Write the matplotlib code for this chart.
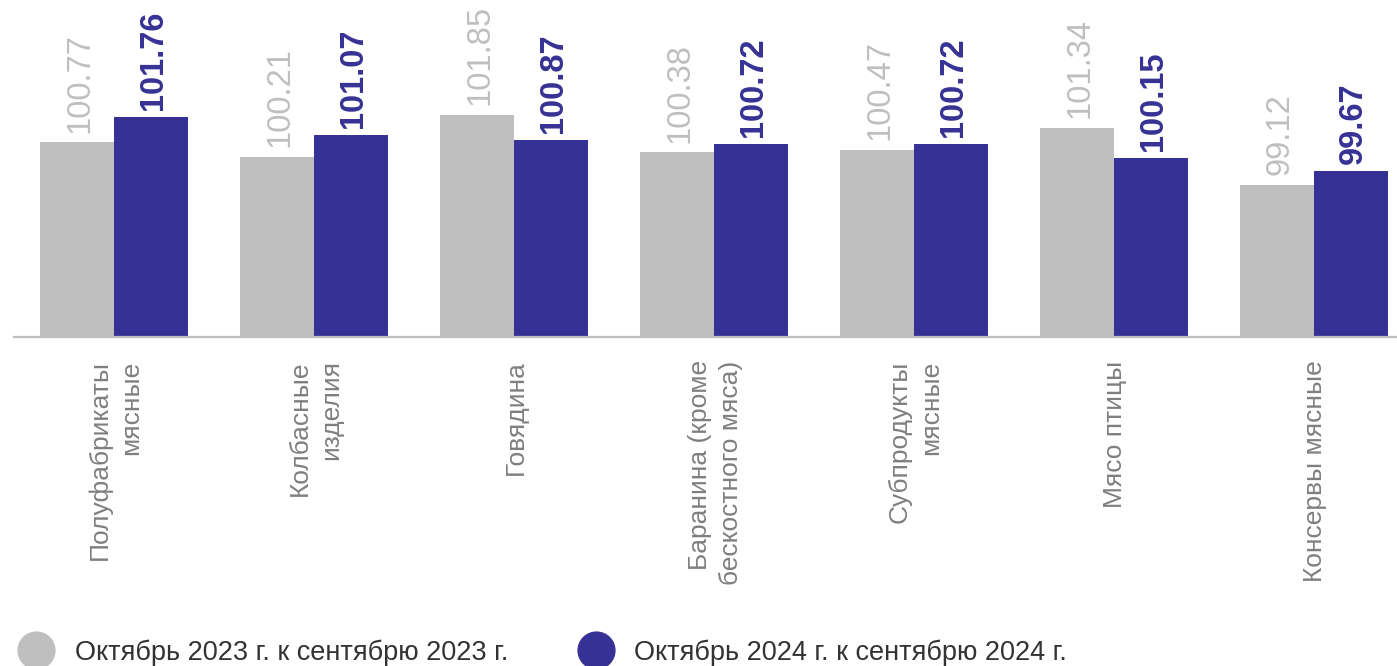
import matplotlib
matplotlib.use("Agg")
import matplotlib.pyplot as plt
from matplotlib.lines import Line2D
import numpy as np

plt.rcParams['font.family'] = ['Liberation Sans', 'DejaVu Sans']

categories = ["Полуфабрикаты\nмясные", "Колбасные\nизделия", "Говядина",
              "Баранина (кроме\nбескостного мяса)", "Субпродукты\nмясные",
              "Мясо птицы", "Консервы мясные"]
values_2023 = [100.77, 100.21, 101.85, 100.38, 100.47, 101.34, 99.12]
values_2024 = [101.76, 101.07, 100.87, 100.72, 100.72, 100.15, 99.67]
series_names = ["Октябрь 2023 г. к сентябрю 2023 г.", "Октябрь 2024 г. к сентябрю 2024 г."]

c_gray = "#BFBFBF"
c_blue = "#363194"

W, H = 1397, 666
fig = plt.figure(figsize=(W / 100, H / 100), dpi=100)
ax_bottom = (H - 336.7) / H
ax = fig.add_axes([14 / W, ax_bottom, 1 - 14 / W, 1 - ax_bottom])

x = np.arange(len(categories))
bw = 0.37
ax.bar(x - bw / 2, values_2023, bw, color=c_gray)
ax.bar(x + bw / 2, values_2024, bw, color=c_blue)

ax.set_xlim(-0.5, 6.415)
ax.set_ylim(93.18, 93.18 + 336.7 / 25.6)

for s in ['top', 'right', 'left']:
    ax.spines[s].set_visible(False)
ax.spines['bottom'].set_color(c_gray)
ax.spines['bottom'].set_linewidth(1.6)
ax.set_yticks([])
ax.set_xticks([])

for xi, v in zip(x - bw / 2, values_2023):
    ax.annotate(f"{v:.2f}", xy=(xi, v), xytext=(2, 7), textcoords='offset points',
                rotation=90, ha='center', va='bottom', fontsize=23.5, color=c_gray)
for xi, v in zip(x + bw / 2, values_2024):
    ax.annotate(f"{v:.2f}", xy=(xi, v), xytext=(2, 5), textcoords='offset points',
                rotation=90, ha='center', va='bottom', fontsize=23.5, color=c_blue,
                fontweight='bold')

for xi, lab in zip(x, categories):
    ax.annotate(lab, xy=(xi, 0), xycoords=('data', 'axes fraction'),
                xytext=(1, -17), textcoords='offset points', rotation=90,
                ha='center', va='top', multialignment='right', fontsize=19,
                color="#7F7F7F", linespacing=1.35, annotation_clip=False)

# legend
for cx, tx, col, name in [(36, 75, c_gray, series_names[0]), (596, 634, c_blue, series_names[1])]:
    fig.add_artist(Line2D([cx / W], [(H - 650) / H], transform=fig.transFigure,
                          marker='o', markersize=26.5, color=col, linestyle='none'))
    fig.text(tx / W, (H - 660) / H, name, fontsize=19.5, color="#333333",
             ha='left', va='baseline')

fig.savefig("out.png", dpi=100)
